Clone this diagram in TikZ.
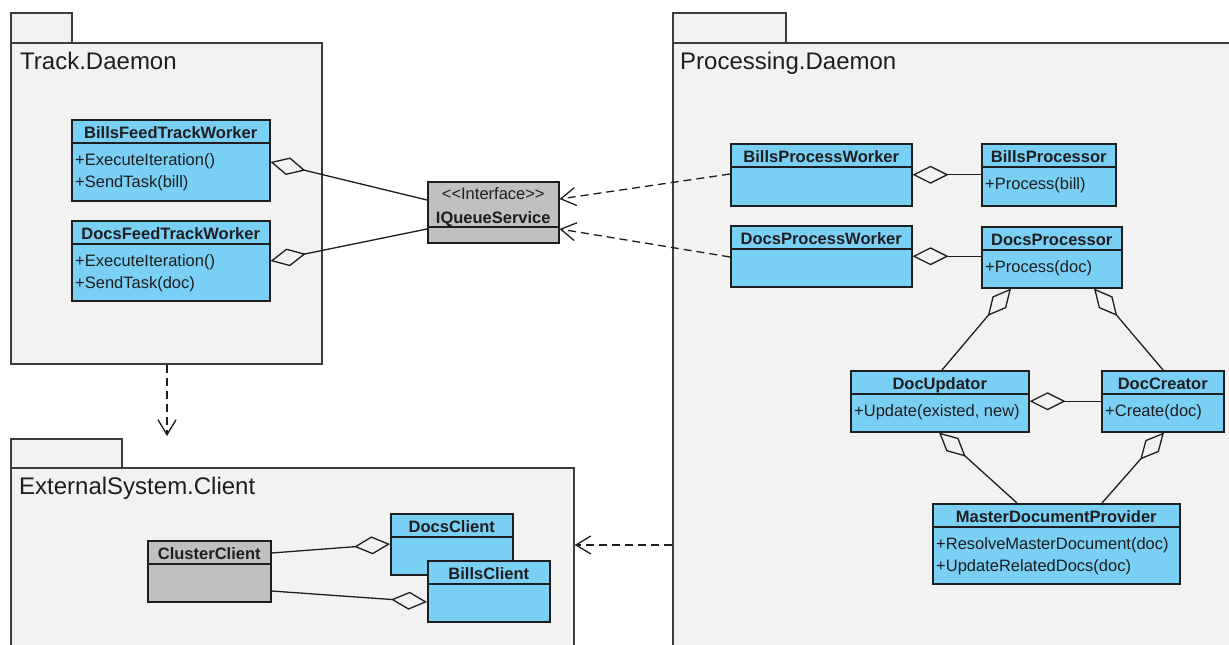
\documentclass[tikz,border=0pt]{standalone}
\usepackage{fontspec}
\setmainfont{Liberation Sans}
\usetikzlibrary{arrows.meta,calc}

\definecolor{pkgfill}{RGB}{242,242,242}
\definecolor{clsblue}{RGB}{122,207,245}
\definecolor{clsgray}{RGB}{192,192,192}
\definecolor{ink}{RGB}{30,30,30}
\definecolor{pkgline}{RGB}{60,60,60}

\tikzset{
  pkgbox/.style={draw=pkgline, fill=pkgfill, line width=1.6pt, rectangle, inner sep=0pt, anchor=north west},
  pkgtitle/.style={font=\fontsize{24}{28}\selectfont, text=ink, inner sep=0pt, anchor=base west},
  classbox/.style={draw=ink, line width=1.5pt, rectangle, inner sep=0pt, anchor=north west},
  classname/.style={font=\fontsize{16.5}{20}\selectfont\bfseries, text=ink, inner sep=0pt, anchor=base},
  opline/.style={font=\fontsize{16.5}{20}\selectfont, text=ink, inner sep=0pt, anchor=base west},
  aggr/.style={draw=ink, line width=1.3pt, {Diamond[open, length=36pt, width=18pt]}-},
  dep/.style={draw=ink, line width=1.3pt, dash pattern=on 8pt off 5pt,
              -{Straight Barb[length=15pt, width=18pt]}}
}

% class box: name, fill, x, y, width, height, title, operation 1, operation 2
\newcommand{\umlclass}[9]{%
  \node[classbox, fill=#2, minimum width=#5pt, minimum height=#6pt] (#1) at (#3,#4) {};
  \draw[ink, line width=1.5pt] ($(#1.north west)+(0,24)$) -- ($(#1.north east)+(0,24)$);
  \node[classname] (#1-name) at ($(#1.north)+(0,19)$) {#7};
  \if\relax\detokenize{#8}\relax\else
    \node[opline] (#1-op1) at ($(#1.north west)+(4,46)$) {#8};
  \fi
  \if\relax\detokenize{#9}\relax\else
    \node[opline] (#1-op2) at ($(#1.north west)+(4,68)$) {#9};
  \fi
}

\begin{document}
\begin{tikzpicture}[x=1pt, y=-1pt]
\useasboundingbox (0,0) rectangle (1229,645);
\fill[white] (0,0) rectangle (1229,645);
\clip (0,0) rectangle (1229,645);

% packages
\node[pkgbox, minimum width=61pt, minimum height=30pt] (tracktab) at (10,12) {};
\node[pkgbox, minimum width=311pt, minimum height=321pt] (track) at (10,42) {};
\node[pkgtitle] (tracktitle) at ($(track.north west)+(10,27)$) {Track.Daemon};

\node[pkgbox, minimum width=113pt, minimum height=30pt] (proctab) at (672,12) {};
\node[pkgbox, minimum width=600pt, minimum height=650pt] (proc) at (672,42) {};
\node[pkgtitle] (proctitle) at ($(proc.north west)+(8,27)$) {Processing.Daemon};

\node[pkgbox, minimum width=111pt, minimum height=29pt] (exttab) at (10,438) {};
\node[pkgbox, minimum width=563pt, minimum height=220pt] (ext) at (10,467) {};
\node[pkgtitle] (exttitle) at ($(ext.north west)+(9,27)$) {ExternalSystem.Client};

% Track.Daemon classes
\umlclass{bfw}{clsblue}{71}{119}{198}{81}{BillsFeedTrackWorker}{+ExecuteIteration()}{+SendTask(bill)}
\umlclass{dfw}{clsblue}{71}{220}{198}{80}{DocsFeedTrackWorker}{+ExecuteIteration()}{+SendTask(doc)}

% interface
\node[classbox, fill=clsgray, minimum width=131pt, minimum height=61pt] (iqs) at (427,181) {};
\draw[ink, line width=1.5pt] ($(iqs.north west)+(0,46)$) -- ($(iqs.north east)+(0,46)$);
\node[opline, anchor=base] (iqs-st) at ($(iqs.north)+(0,18)$) {<\kern0pt<Interface>\kern0pt>};
\node[classname] (iqs-name) at ($(iqs.north)+(0,42)$) {IQueueService};

% Processing.Daemon classes
\umlclass{bpw}{clsblue}{730}{143}{181}{62}{BillsProcessWorker}{}{}
\umlclass{bpr}{clsblue}{981}{143}{134}{62}{BillsProcessor}{+Process(bill)}{}
\umlclass{dpw}{clsblue}{730}{225}{181}{61}{DocsProcessWorker}{}{}
\umlclass{dpr}{clsblue}{981}{226}{140}{61}{DocsProcessor}{+Process(doc)}{}
\umlclass{dup}{clsblue}{850}{370}{178}{61}{DocUpdator}{+Update(existed, new)}{}
\umlclass{dcr}{clsblue}{1101}{370}{122}{61}{DocCreator}{+Create(doc)}{}
\umlclass{mdp}{clsblue}{932}{503}{247}{80}{MasterDocumentProvider}{+ResolveMasterDocument(doc)}{+UpdateRelatedDocs(doc)}

% ExternalSystem.Client classes
\umlclass{ccl}{clsgray}{147}{540}{123}{61}{ClusterClient}{}{}
\umlclass{dcl}{clsblue}{390}{513}{122}{61}{DocsClient}{}{}
\umlclass{bcl}{clsblue}{427}{560}{122}{61}{BillsClient}{}{}

% aggregations
\draw[aggr] ($(bfw.north east)+(0,43)$) -- ($(iqs.north west)+(0,19)$);
\draw[aggr] ($(dfw.north east)+(0,41)$) -- ($(iqs.north west)+(0,48)$);
\draw[aggr] (bpw.east) -- (bpw.east -| bpr.west);
\draw[aggr] (dpw.east) -- (dpw.east -| dpr.west);
\draw[aggr] ($(dpr.south west)+(30,0)$) -- ($(dup.north west)+(92,0)$);
\draw[aggr] ($(dpr.south west)+(113,0)$) -- ($(dcr.north west)+(62,0)$);
\draw[aggr] (dup.east) -- (dup.east -| dcr.west);
\draw[aggr] ($(dup.south west)+(89,0)$) -- ($(mdp.north west)+(85,0)$);
\draw[aggr] ($(dcr.south west)+(63,0)$) -- ($(mdp.north west)+(170,0)$);
\draw[aggr] ($(dcl.north west)+(0,31)$) -- ($(ccl.north east)+(0,13)$);
\draw[aggr] ($(bcl.north west)+(0,42)$) -- ($(ccl.north east)+(0,51)$);

% dependencies
\draw[dep] ($(bpw.north west)+(0,31)$) -- ($(iqs.north east)+(0,18)$);
\draw[dep] ($(dpw.north west)+(0,32)$) -- ($(iqs.north east)+(0,48)$);
\draw[dep] ($(track.south west)+(157,0)$) -- ($(exttab.north west)+(157,-2)$);
\draw[dep] ($(proc.north west)+(0,503)$) -- ($(ext.north east)+(0,78)$);
\end{tikzpicture}
\end{document}
